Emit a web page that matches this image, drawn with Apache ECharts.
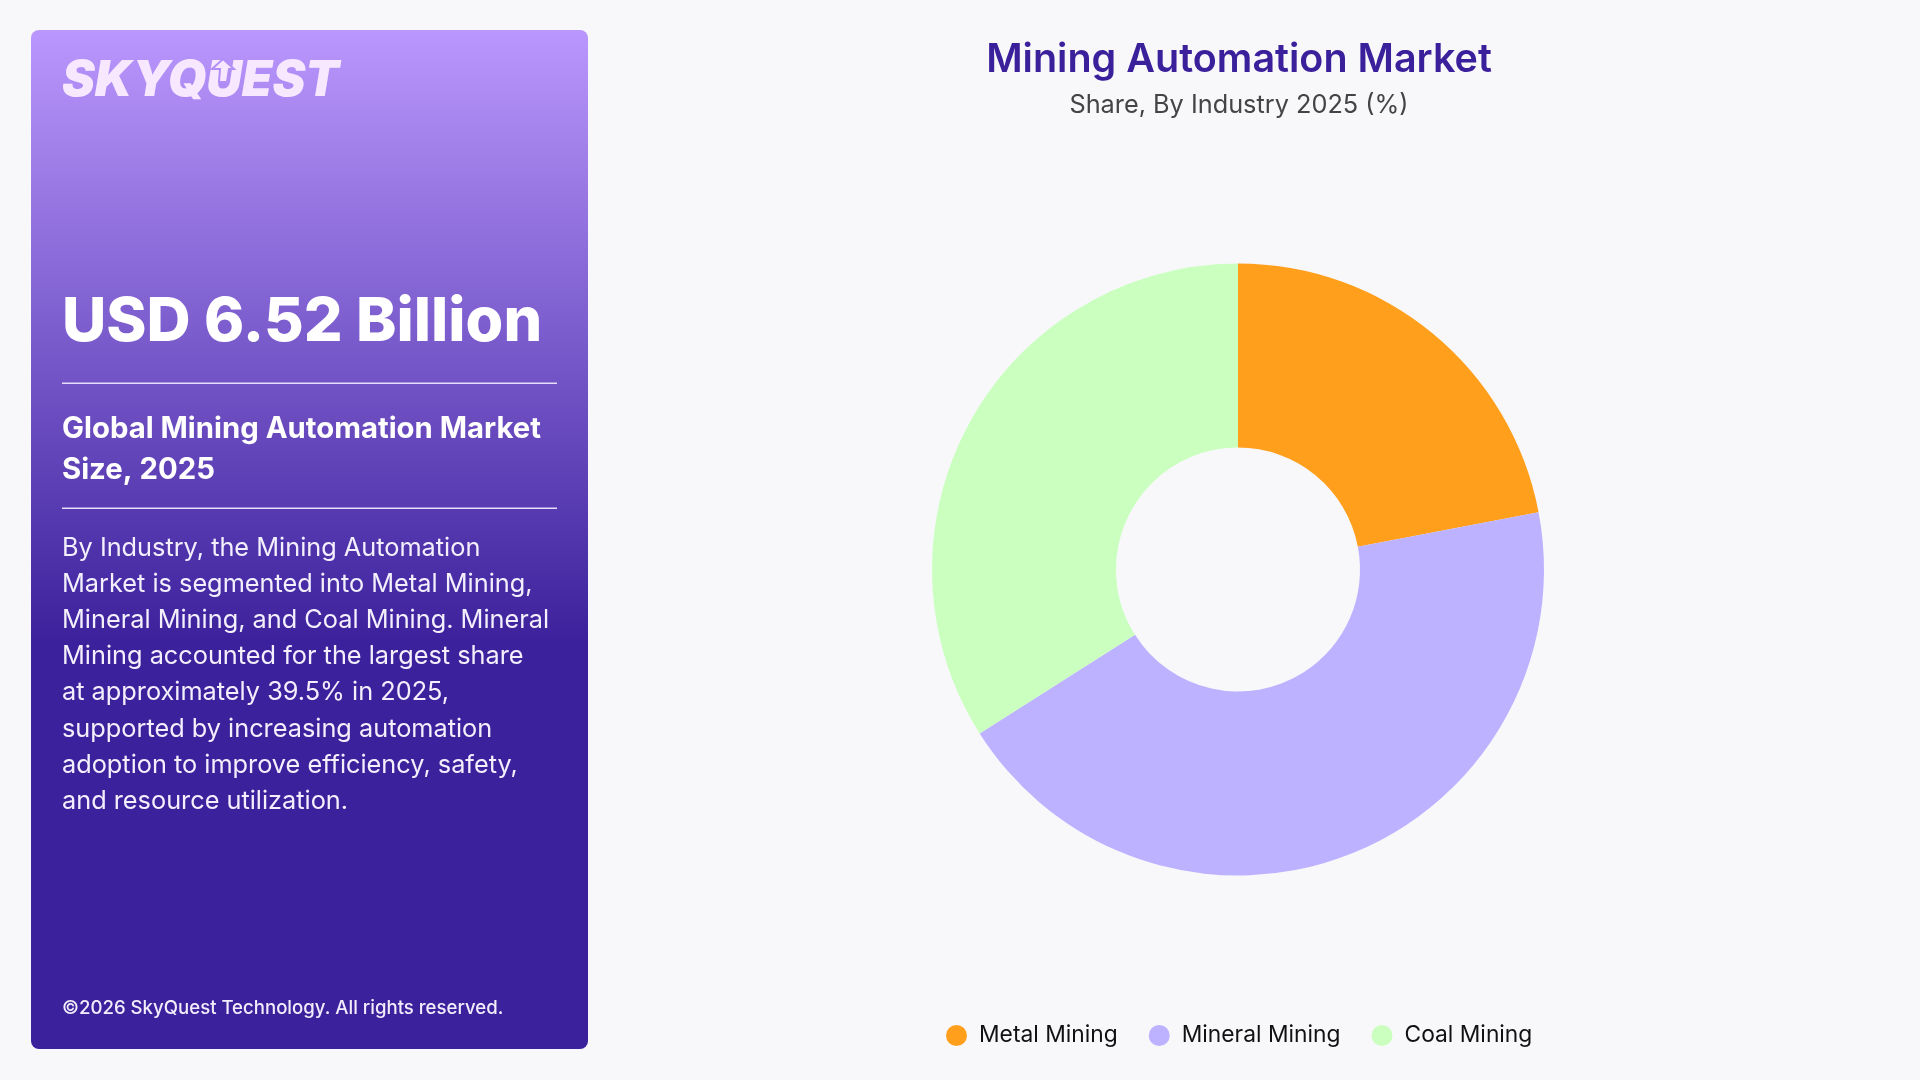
<!DOCTYPE html>
<html>
<head>
<meta charset="utf-8">
<title>Mining Automation Market</title>
<script src="https://cdn.jsdelivr.net/npm/echarts@6/dist/echarts.min.js"></script>
<style>
  html, body { margin: 0; padding: 0; background: #f8f8fb; }
  #chart { width: 1920px; height: 1080px; }
</style>
</head>
<body>
<div id="chart"></div>
<script>
var categories = ['Metal Mining', 'Mineral Mining', 'Coal Mining'];
var shares = [22, 44, 34];
var colors = ['#ff9f1c', '#bdb2ff', '#caffbf'];

var chartTitle = 'Mining Automation Market';
var chartSubtitle = 'Share, By Industry 2025 (%)';
var brand = 'SKYQUEST';
var headline = 'USD 6.52 Billion';
var headingLines = ['Global Mining Automation Market', 'Size, 2025'];
var bodyLines = [
  'By Industry, the Mining Automation',
  'Market is segmented into Metal Mining,',
  'Mineral Mining, and Coal Mining. Mineral',
  'Mining accounted for the largest share',
  'at approximately 39.5% in 2025,',
  'supported by increasing automation',
  'adoption to improve efficiency, safety,',
  'and resource utilization.'
];
var copyright = '©2026 SkyQuest Technology. All rights reserved.';

var font = 'Inter, "Noto Sans", sans-serif';

function label(str, x, y, size, weight, color, extra) {
  return {
    type: 'text',
    x: x,
    y: y,
    style: Object.assign({
      text: str,
      fontFamily: font,
      fontSize: size,
      fontWeight: weight,
      fill: color,
      textVerticalAlign: 'middle'
    }, extra || {})
  };
}

var panel = [
  {
    type: 'rect',
    shape: {x: 31, y: 30, width: 557, height: 1019, r: 8},
    style: {
      fill: new echarts.graphic.LinearGradient(0, 0, 0, 1, [
        {offset: 0, color: '#ba97fd'},
        {offset: 0.6, color: '#3c219c'},
        {offset: 1, color: '#3c219c'}
      ])
    }
  },
  label(brand, 62, 81, 49.3, 900, '#f7e8ff', {fontStyle: 'italic'}),
  // little arrow cut into the U of the logo
  {
    type: 'polygon',
    shape: {points: [[223, 59], [234, 69], [229, 69], [227, 82], [219, 82], [220, 69], [212, 69]]},
    style: {fill: '#f7e8ff', stroke: '#b28ff6', lineWidth: 2}
  },
  label(headline, 62, 323, 61, 800, '#ffffff'),
  {type: 'rect', shape: {x: 62, y: 382.5, width: 495, height: 1.5}, style: {fill: '#e6defa'}},
  {type: 'rect', shape: {x: 62, y: 507.5, width: 495, height: 1.5}, style: {fill: '#e6defa'}},
  label(copyright, 62, 1008.5, 18.6, 500, '#f1edfb')
];
headingLines.forEach(function (s, i) {
  panel.push(label(s, 62, 429.5 + i * 41, 29.3, 700, '#ffffff'));
});
bodyLines.forEach(function (s, i) {
  panel.push(label(s, 62, 548 + i * 36.2, 25.3, 400, '#f3effc'));
});

var chart = echarts.init(document.getElementById('chart'));
chart.setOption({
  animation: false,
  backgroundColor: '#f8f8fb',
  color: colors,
  title: [
    {
      text: chartTitle,
      left: 1234,
      top: 35,
      textAlign: 'center',
      textStyle: {fontFamily: font, fontSize: 39.5, fontWeight: 600, color: '#3b209b'}
    },
    {
      text: chartSubtitle,
      left: 1234,
      top: 88,
      textAlign: 'center',
      textStyle: {fontFamily: font, fontSize: 25.3, fontWeight: 400, color: '#444444'}
    }
  ],
  legend: {
    data: categories,
    left: 941,
    top: 1019,
    icon: 'circle',
    itemWidth: 21,
    itemHeight: 21,
    itemGap: 31,
    textStyle: {fontFamily: font, fontSize: 22.8, color: '#111111', padding: [0, 0, 0, 7]}
  },
  graphic: {elements: panel},
  series: [{
    type: 'pie',
    center: [1238, 569.5],
    radius: [122, 306],
    startAngle: 90,
    clockwise: true,
    silent: true,
    label: {show: false},
    labelLine: {show: false},
    data: categories.map(function (c, i) {
      return {name: c, value: shares[i]};
    })
  }]
});
</script>
</body>
</html>
